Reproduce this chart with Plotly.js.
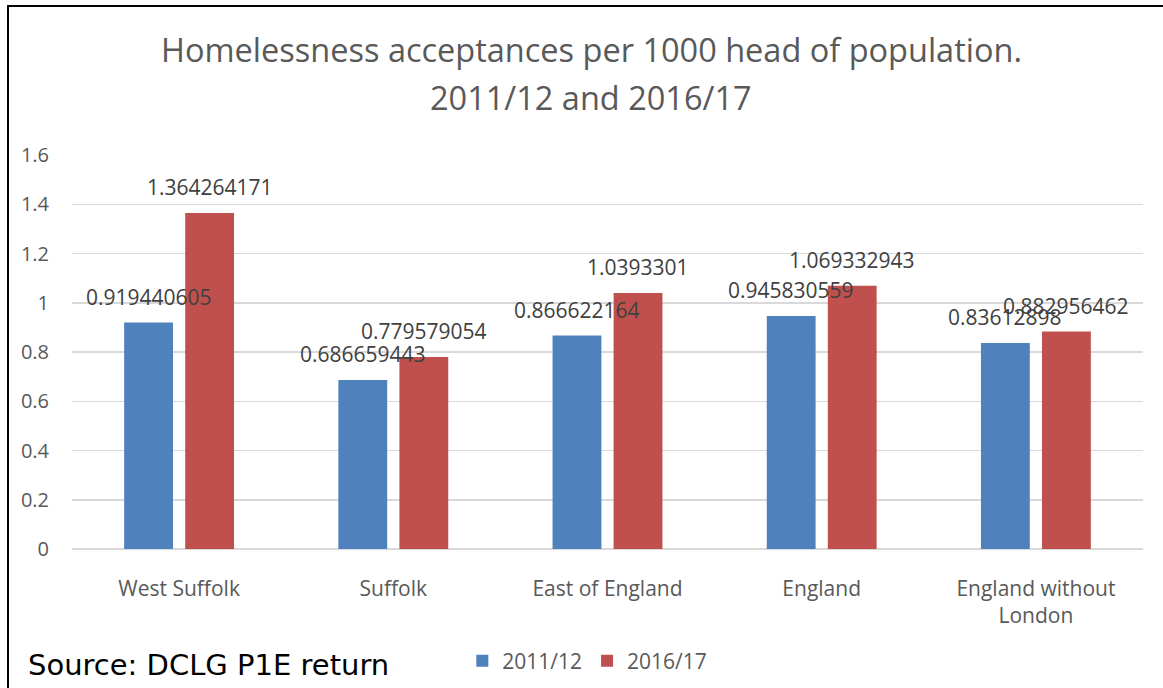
<!DOCTYPE html>
<html>
<head>
<meta charset="utf-8">
<script src="https://cdn.plot.ly/plotly-3.0.1.min.js"></script>
<style>
  html, body { margin: 0; padding: 0; background: #fff; }
  #wrap { position: relative; width: 1163px; height: 688px; overflow: hidden; }
  #chart { position: absolute; left: 0; top: 0; width: 1163px; height: 688px; }
  #frame { position: absolute; left: 7px; top: 5px; width: 1200px; height: 720px;
           border-left: 2px solid #000; border-top: 2px solid #000; pointer-events: none; }
</style>
</head>
<body>
<div id="wrap">
  <div id="chart"></div>
  <div id="frame"></div>
</div>
<script>
// ---- data ----
const categories = ["West Suffolk", "Suffolk", "East of England", "England", "England without<br>London"];
const seriesNames = ["2011/12", "2016/17"];
const values2011 = [0.919440605, 0.686659443, 0.866622164, 0.945830559, 0.83612898];
const values2016 = [1.364264171, 0.779579054, 1.0393301, 1.069332943, 0.882956462];
const yTicks = [0, 0.2, 0.4, 0.6, 0.8, 1, 1.2, 1.4, 1.6];
const yTickText = ["0", "0.2", "0.4", "0.6", "0.8", "1", "1.2", "1.4", "1.6"];
const titleLines = ["Homelessness acceptances per 1000 head of population.", "2011/12 and 2016/17"];
const sourceText = "Source: DCLG P1E return";

const colors = ["#4F81BD", "#C0504D"];
const allSeries = [values2011, values2016];

const traces = allSeries.map((vals, i) => ({
  type: "bar",
  name: seriesNames[i],
  x: categories,
  y: vals,
  marker: { color: colors[i] },
  hoverinfo: "skip"
}));

// data labels (Excel-style, above bars)
const slotOffset = 30.5;
const annotations = [];
allSeries.forEach((vals, i) => {
  vals.forEach((v, j) => {
    annotations.push({
      x: categories[j], y: v, xref: "x", yref: "y",
      text: String(v), showarrow: false,
      xshift: (i === 0 ? -1 : 1) * slotOffset, yshift: 26,
      xanchor: "center", yanchor: "middle",
      font: { family: "Open Sans", size: 21, color: "#404040" }
    });
  });
});
// title as two lines (Excel-like line spacing)
titleLines.forEach((t, k) => {
  annotations.push({
    text: t, showarrow: false,
    xref: "paper", yref: "paper", x: 0.4846, y: k === 0 ? 1.2665 : 1.1472,
    xanchor: "center", yanchor: "middle",
    font: { family: "Open Sans", size: 32.5, color: "#595959" }
  });
});
annotations.push({
  text: sourceText, showarrow: false,
  xref: "paper", yref: "paper", x: -0.043, y: -0.2944,
  xanchor: "left", yanchor: "middle",
  font: { family: "DejaVu Sans", size: 29, color: "#000000" }
});

const layout = {
  width: 1163, height: 688,
  margin: { l: 72, r: 20, t: 155, b: 139 },
  paper_bgcolor: "#ffffff", plot_bgcolor: "#ffffff",
  barmode: "group", bargap: 0.43, bargroupgap: 0.2,
  xaxis: {
    type: "category",
    showgrid: false, zeroline: false, showline: false,
    ticks: "", ticklabelstandoff: 25,
    tickfont: { family: "Open Sans", size: 21, color: "#595959" }
  },
  yaxis: {
    range: [0, 1.6], tickvals: yTicks, ticktext: yTickText,
    showgrid: true, gridcolor: "#d9d9d9", gridwidth: 1.5,
    zeroline: true, zerolinecolor: "#d9d9d9", zerolinewidth: 1.5,
    showline: false, ticks: "", ticklabelstandoff: 22,
    tickfont: { family: "Open Sans", size: 20, color: "#595959" }
  },
  showlegend: true,
  legend: {
    orientation: "h", xref: "container", yref: "container",
    x: 0.505, y: 0.039, xanchor: "center", yanchor: "middle",
    font: { family: "Open Sans", size: 21, color: "#595959" },
    itemclick: false, itemdoubleclick: false
  },
  annotations: annotations,
  hovermode: false
};

Plotly.newPlot("chart", traces, layout, { displayModeBar: false, staticPlot: true });
</script>
</body>
</html>
